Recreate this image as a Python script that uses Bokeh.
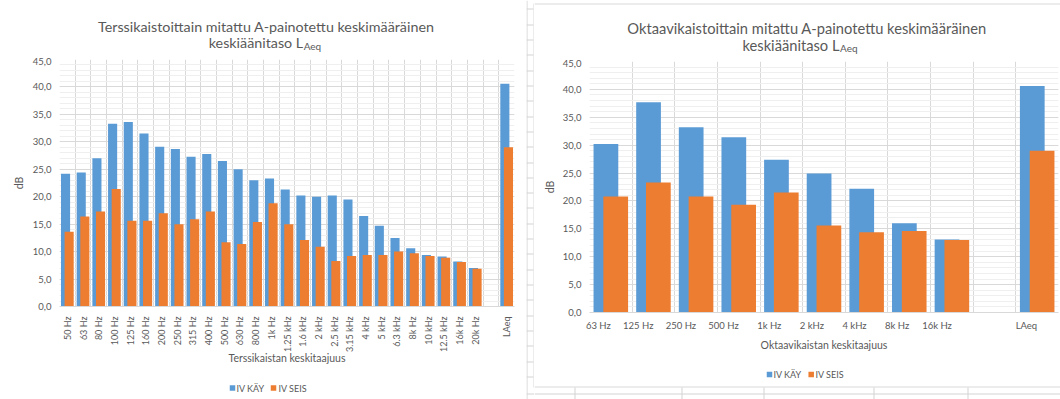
from math import pi

from bokeh.embed import file_html
from bokeh.layouts import column, row
from bokeh.models import ColumnDataSource, FixedTicker, Label, Range1d
from bokeh.plotting import figure
from bokeh.resources import INLINE
from bokeh.transform import dodge

# --- data -------------------------------------------------------------------
TERTS_BANDS = ["50 Hz", "63 Hz", "80 Hz", "100 Hz", "125 Hz", "160 Hz", "200 Hz",
               "250 Hz", "315 Hz", "400 Hz", "500 Hz", "630 Hz", "800 Hz", "1k Hz",
               "1.25 kHz", "1.6 kHz", "2 kHz", "2.5 kHz", "3.15 kHz", "4 kHz", "5 kHz",
               "6.3 kHz", "8k Hz", "10 kHz", "12.5 kHz", "16k Hz", "20k Hz"]
TERTS_KAY = [24.2, 24.4, 27.0, 33.3, 33.6, 31.5, 29.1, 28.7, 27.3, 27.8, 26.5, 25.0,
             23.0, 23.3, 21.3, 20.2, 20.0, 20.2, 19.5, 16.5, 14.7, 12.5, 10.6, 9.4,
             9.1, 8.2, 7.0]
TERTS_SEIS = [13.6, 16.4, 17.3, 21.4, 15.6, 15.6, 17.0, 15.0, 15.9, 17.3, 11.7, 11.4,
              15.4, 18.8, 15.0, 12.1, 10.9, 8.3, 9.2, 9.4, 9.4, 10.0, 9.7, 9.2,
              8.9, 8.1, 6.9]

OKT_BANDS = ["63 Hz", "125 Hz", "250 Hz", "500 Hz", "1k Hz", "2 kHz", "4 kHz",
             "8k Hz", "16k Hz"]
OKT_KAY = [30.2, 37.7, 33.2, 31.4, 27.4, 24.9, 22.2, 16.0, 13.1]
OKT_SEIS = [20.8, 23.3, 20.8, 19.3, 21.5, 15.6, 14.4, 14.6, 13.0]

TOTAL_LABEL = "LAeq"
TOTAL_KAY = 40.6
TOTAL_SEIS = 29.0

SERIES = ["IV KÄY", "IV SEIS"]

Y_TICKS = [0, 5, 10, 15, 20, 25, 30, 35, 40, 45]
Y_LABELS = ["0,0", "5,0", "10,0", "15,0", "20,0", "25,0", "30,0", "35,0", "40,0", "45,0"]

# --- style ------------------------------------------------------------------
FONT = "Lato"
TEXT = "#595959"
BLUE = "#5B9BD5"
ORANGE = "#ED7D31"
GRID = "#d9d9d9"
MINOR = "#efefef"
SHEET = "#d4d4d4"
COLORS = [BLUE, ORANGE]


def pixel_fig(w, h):
    """A figure whose frame fills the canvas, with data units equal to pixels."""
    p = figure(width=w, height=h, output_backend="svg", toolbar_location=None,
               x_range=Range1d(0, w), y_range=Range1d(h, 0),
               x_axis_location=None, y_axis_location=None, min_border=0)
    p.grid.visible = False
    p.outline_line_color = None
    p.background_fill_color = "white"
    p.border_fill_color = "white"
    return p


def hline(p, x0, x1, y, color=SHEET):
    p.quad(left=[x0], right=[x1], top=[y], bottom=[y + 1], fill_color=color,
           line_color=None)


def vline(p, x, y0, y1, color=SHEET):
    p.quad(left=[x], right=[x + 1], top=[y0], bottom=[y1], fill_color=color,
           line_color=None)


def text(p, x, y, txt, size, align="left", baseline="alphabetic"):
    p.add_layout(Label(x=x, y=y, text=txt, text_align=align, text_baseline=baseline,
                       text_font=FONT, text_font_size=size, text_color=TEXT))


def title_fig(w, h, line1, line2, size, cx, base1, split, base2, base_sub):
    p = pixel_fig(w, h)
    text(p, cx, base1, line1, size, align="center")
    text(p, split, base2, line2, size, align="right")
    text(p, split + 0.5, base_sub, "Aeq", "10px")
    return p


def legend_fig(w, h, key_x, text_x, cy):
    p = pixel_fig(w, h)
    p.rect(x=key_x, y=[cy] * len(SERIES), width=5.5, height=5.5, fill_color=COLORS,
           line_color=None)
    for name, tx in zip(SERIES, text_x):
        text(p, tx, cy, name, "9px", baseline="middle")
    return p


def band_chart(bands, kay, seis, width, height, borders, x_title, label_angle,
               label_size, x_standoff, xt_standoff, y_standoff):
    n = len(bands)
    xs = list(range(n)) + [n + 1]          # one empty slot before the total
    labels = bands + [TOTAL_LABEL]
    src = ColumnDataSource(dict(x=xs, kay=kay + [TOTAL_KAY], seis=seis + [TOTAL_SEIS]))

    left, right, top, bottom = borders
    p = figure(width=width, height=height, output_backend="svg", toolbar_location=None,
               x_range=Range1d(-0.5, n + 1.5), y_range=Range1d(0, 45),
               min_border_left=left, min_border_right=right,
               min_border_top=top, min_border_bottom=bottom)
    p.outline_line_color = None
    p.background_fill_color = "white"
    p.border_fill_color = "white"

    p.vbar(x=dodge("x", -0.115), top="kay", width=0.58, source=src,
           fill_color=BLUE, line_color=None)
    p.vbar(x=dodge("x", 0.115), top="seis", width=0.58, source=src,
           fill_color=ORANGE, line_color=None)

    # grids: category boundaries, 5 dB major lines, 1 dB minor lines
    p.xgrid.ticker = FixedTicker(ticks=[i - 0.5 for i in range(n + 3)])
    p.xgrid.grid_line_color = GRID
    p.ygrid.ticker = FixedTicker(ticks=Y_TICKS, minor_ticks=list(range(0, 46)))
    p.ygrid.grid_line_color = GRID
    p.ygrid.minor_grid_line_color = MINOR

    xa = p.xaxis[0]
    xa.ticker = FixedTicker(ticks=xs)
    xa.major_label_overrides = {x: lab for x, lab in zip(xs, labels)}
    xa.major_label_orientation = label_angle
    xa.axis_line_color = GRID
    xa.major_label_standoff = xt_standoff
    xa.axis_label = x_title
    xa.axis_label_standoff = x_standoff

    ya = p.yaxis[0]
    ya.ticker = FixedTicker(ticks=Y_TICKS)
    ya.major_label_overrides = dict(zip(Y_TICKS, Y_LABELS))
    ya.axis_line_color = None
    ya.major_label_standoff = 8
    ya.axis_label = "dB"
    ya.axis_label_standoff = y_standoff

    for ax in (xa, ya):
        ax.major_tick_line_color = None
        ax.minor_tick_line_color = None
        ax.major_tick_out = 0
        ax.major_tick_in = 0
        ax.minor_tick_out = 0
        ax.major_label_text_font = FONT
        ax.major_label_text_font_size = "9.5px"
        ax.major_label_text_color = TEXT
        ax.axis_label_text_font = FONT
        ax.axis_label_text_font_size = "10.5px"
        ax.axis_label_text_font_style = "normal"
        ax.axis_label_text_color = TEXT
    xa.major_label_text_font_size = label_size
    return p


# --- third-octave chart (left) ----------------------------------------------
left_title = title_fig(526, 57, "Terssikaistoittain mitattu A-painotettu keskimääräinen",
                       "keskiäänitaso L", "14.3px", 265.7, 25.7, 302.7, 42.3, 45.7)
left_chart = band_chart(TERTS_BANDS, TERTS_KAY, TERTS_SEIS, width=526, height=319,
                        borders=(59, 12, 2, 70), x_title="Terssikaistan keskitaajuus",
                        label_angle=pi / 2, label_size="9px", x_standoff=-3,
                        xt_standoff=10, y_standoff=5)
left_legend = legend_fig(526, 23, [232, 273], [236, 278], 11.6)
# the text strips sit in their own rows so that they keep their full width
left_col = column(row(left_title), left_chart, row(left_legend), spacing=0)

# --- worksheet cell strip between the charts ---------------------------------
strip = pixel_fig(8, 399)
vline(strip, 0, 0, 399)
for k in range(25):
    hline(strip, 0, 7, round(8.3 + 15.32 * k))
vline(strip, 7, 3, 387, color=GRID)
hline(strip, 0, 8, 393)

# --- octave chart (right) ----------------------------------------------------
right_title = title_fig(526, 59, "Oktaavikaistoittain mitattu A-painotettu keskimääräinen",
                        "keskiäänitaso L", "14.7px", 272.5, 27.7, 305, 44.3, 47.7)
hline(right_title, 0, 526, 3, color=GRID)
right_chart = band_chart(OKT_BANDS, OKT_KAY, OKT_SEIS, width=526, height=307,
                         borders=(55, 2, 2, 54), x_title="Oktaavikaistan keskitaajuus",
                         label_angle=0, label_size="9.5px", x_standoff=-1,
                         xt_standoff=13, y_standoff=4)
right_legend = legend_fig(526, 33, [235, 276.7], [239, 281], 8)
hline(right_legend, 0, 526, 20, color=GRID)
hline(right_legend, 0, 526, 27)
for x in (40, 147, 229, 339, 433):
    vline(right_legend, x, 21, 33)
right_col = column(row(right_title), right_chart, row(right_legend), spacing=0)

layout = row(left_col, strip, right_col, spacing=0)
open("out.html", "w").write(file_html(layout, INLINE))
